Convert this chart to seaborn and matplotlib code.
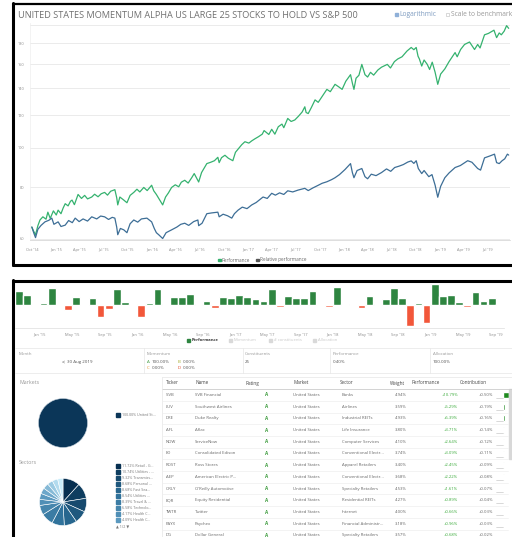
import numpy as np
import pandas as pd
import matplotlib.pyplot as plt
import matplotlib.dates as mdates
import seaborn as sns

sns.set_theme(style="white")
plt.rcParams['font.family'] = ['Open Sans', 'DejaVu Sans']

W, H = 512, 537

# ---- cumulative performance (log scale) ----
perf_pts = """2014-10-01 64.0;2014-10-08 62.5;2014-10-15 61.3;2014-10-24 64.5;2014-11-01 66.6;2014-11-12 67.8;2014-11-24 66.9;
2014-12-01 69.6;2014-12-10 67.2;2014-12-22 70.1;2015-01-02 68.5;2015-01-09 70.4;2015-01-20 69.0;2015-01-28 71.2;2015-02-05 73.0;
2015-02-16 72.1;2015-02-25 74.0;2015-03-03 74.5;2015-03-12 72.6;2015-03-26 76.9;2015-04-08 75.2;2015-04-20 76.5;2015-05-01 75.0;
2015-05-17 75.8;2015-05-28 77.0;2015-06-10 75.9;2015-06-22 77.2;2015-07-05 77.8;2015-07-16 76.6;2015-07-28 78.3;2015-08-13 79.0;
2015-08-20 75.5;2015-08-24 72.5;2015-09-01 75.8;2015-09-16 74.5;2015-09-28 73.4;2015-10-10 76.5;2015-10-24 77.8;2015-11-05 79.2;
2015-11-16 78.0;2015-12-01 80.0;2015-12-14 78.6;2015-12-31 81.0;2016-01-08 78.5;2016-01-18 76.9;2016-01-28 75.0;2016-02-11 72.5;
2016-02-22 75.8;2016-03-04 77.6;2016-03-16 80.0;2016-03-30 81.2;2016-04-12 80.3;2016-04-22 82.4;2016-05-05 83.3;2016-05-18 82.0;
2016-06-01 84.6;2016-06-10 86.5;2016-06-27 82.5;2016-07-08 87.0;2016-07-28 91.5;2016-08-12 92.2;2016-08-26 93.0;2016-09-08 94.8;
2016-09-13 92.0;2016-09-22 94.6;2016-10-05 95.9;2016-10-18 94.3;2016-11-04 93.0;2016-11-14 97.5;2016-11-24 99.3;2016-12-08 101.8;
2016-12-20 103.5;2017-01-04 102.7;2017-01-15 104.0;2017-01-27 105.2;2017-02-10 106.5;2017-02-24 108.0;2017-03-03 110.2;
2017-03-21 107.8;2017-04-01 111.0;2017-04-13 108.0;2017-04-26 112.6;2017-05-10 114.3;2017-05-17 112.0;2017-06-01 118.0;
2017-06-14 116.0;2017-06-28 117.0;2017-07-12 119.5;2017-07-26 122.4;2017-08-05 126.0;2017-08-10 122.0;2017-08-18 121.3;
2017-08-30 125.5;2017-09-13 131.0;2017-09-25 129.2;2017-10-10 133.5;2017-10-28 139.0;2017-11-10 137.2;2017-11-28 143.0;
2017-12-12 141.0;2017-12-25 139.0;2018-01-08 145.5;2018-01-26 151.0;2018-02-02 144.0;2018-02-08 139.0;2018-02-16 148.0;
2018-02-27 150.5;2018-03-10 160.0;2018-03-22 151.0;2018-04-01 149.0;2018-04-12 153.0;2018-04-24 150.6;2018-05-10 155.0;
2018-05-24 157.5;2018-06-15 160.0;2018-06-27 156.8;2018-07-12 162.5;2018-07-25 165.0;2018-08-10 167.0;2018-08-29 172.5;
2018-09-14 176.0;2018-09-24 173.8;2018-10-03 176.0;2018-10-10 167.5;2018-10-15 165.0;2018-10-24 158.5;2018-11-02 164.0;
2018-11-14 160.0;2018-11-23 155.5;2018-12-03 162.0;2018-12-14 153.0;2018-12-24 143.0;2019-01-04 151.5;2019-01-20 156.0;
2019-02-05 162.5;2019-02-28 171.0;2019-03-08 167.0;2019-03-21 174.0;2019-04-05 179.0;2019-04-24 181.5;2019-05-13 174.0;
2019-05-25 179.0;2019-06-03 175.5;2019-06-20 189.0;2019-07-05 190.5;2019-07-26 194.0;2019-08-05 186.0;2019-08-15 191.0;
2019-08-23 189.0;2019-09-03 193.0;2019-09-12 199.0;2019-09-20 196.0"""

rel_pts = """2014-10-01 64.0;2014-10-08 62.0;2014-10-15 60.3;2014-10-24 63.2;2014-11-05 64.6;2014-11-20 65.9;2014-12-05 66.5;
2014-12-16 67.3;2014-12-24 65.0;2015-01-09 65.9;2015-01-20 64.2;2015-02-05 64.7;2015-02-18 66.4;2015-03-04 65.6;2015-03-15 67.3;
2015-03-30 66.0;2015-04-14 67.0;2015-05-01 66.2;2015-05-17 67.8;2015-06-05 67.0;2015-06-20 68.1;2015-07-05 67.8;2015-07-20 66.8;
2015-08-03 67.6;2015-08-13 67.3;2015-08-20 64.0;2015-08-24 61.3;2015-09-03 63.5;2015-09-16 63.0;2015-09-28 62.0;2015-10-10 65.2;
2015-10-24 66.6;2015-11-08 65.8;2015-11-22 67.0;2015-12-13 67.3;2015-12-31 65.9;2016-01-10 63.5;2016-01-18 62.0;2016-01-28 61.2;
2016-02-11 60.0;2016-02-24 62.0;2016-03-16 63.0;2016-04-05 64.0;2016-04-20 65.0;2016-05-05 65.4;2016-05-20 64.6;2016-06-08 66.0;
2016-06-24 66.6;2016-06-27 64.5;2016-07-10 65.4;2016-07-28 69.0;2016-08-15 69.3;2016-09-08 69.6;2016-09-13 67.8;2016-09-28 68.8;
2016-10-15 68.2;2016-10-31 67.3;2016-11-10 69.0;2016-11-24 70.4;2016-12-10 71.6;2016-12-28 71.0;2017-01-15 72.5;2017-02-01 73.5;
2017-02-27 75.8;2017-03-15 75.2;2017-04-01 77.4;2017-04-15 76.6;2017-05-01 77.6;2017-05-17 76.9;2017-06-01 78.5;2017-06-20 78.0;
2017-07-10 78.8;2017-08-05 79.6;2017-08-18 78.6;2017-09-05 79.8;2017-09-22 80.8;2017-10-10 81.9;2017-10-28 82.6;2017-11-15 83.6;
2017-11-28 84.5;2017-12-15 86.0;2018-01-05 88.5;2018-01-26 91.5;2018-02-02 87.0;2018-02-08 84.5;2018-02-20 88.0;2018-03-10 89.0;
2018-03-22 85.0;2018-04-01 84.0;2018-04-15 86.2;2018-05-03 85.5;2018-05-24 87.0;2018-06-12 88.8;2018-06-28 87.6;2018-07-13 89.5;
2018-07-30 90.2;2018-08-15 91.0;2018-09-01 92.3;2018-09-14 92.9;2018-09-24 91.6;2018-10-03 93.0;2018-10-11 89.0;2018-10-24 86.5;
2018-11-02 88.0;2018-11-20 85.0;2018-12-02 86.0;2018-12-14 81.0;2018-12-24 75.7;2019-01-04 80.5;2019-01-20 84.5;2019-02-05 86.8;
2019-02-28 89.5;2019-03-20 90.5;2019-04-17 93.0;2019-05-03 92.2;2019-05-25 89.0;2019-06-05 88.2;2019-06-20 94.5;2019-07-10 95.5;
2019-07-28 96.5;2019-08-05 92.0;2019-08-15 91.5;2019-08-26 93.0;2019-09-05 94.0;2019-09-15 96.5;2019-09-20 96.0"""

def parse(s):
    d, v = [], []
    for item in s.replace("\n", "").split(";"):
        a, b = item.split()
        d.append(pd.Timestamp(a)); v.append(float(b))
    return d, v

perf_dates, perf_vals = parse(perf_pts)
rel_dates, rel_vals = parse(rel_pts)

# ---- monthly performance bars (Oct '14 .. Sep '19) ----
monthly_perf = [4.2, 3.0, 0.0, 0.6, 5.0, 0.0, -1.5, 2.3, 0.0, 2.0, -3.7, -1.3, 4.7, 1.0, 0.2,
                -3.7, 0.7, 4.7, 0.3, 2.5, 2.5, 3.3, 0.4, 1.2, -1.0, 2.5, 2.0, 3.0, 2.3, 1.8,
                1.2, 4.7, -0.5, 2.8, 2.2, 2.2, 4.2, 0.0, -0.5, 5.5, 0.3, 0.0, -1.0, 2.8, 0.3,
                1.7, 5.2, 2.0, -6.2, 0.7, -5.5, 6.3, 2.8, 3.0, 1.0, -0.7, 3.8, 1.3, 2.0, 0.2]
bar_months = pd.date_range('2014-10-01', periods=len(monthly_perf), freq='MS')

# ---- allocation ----
market_labels = ['United States']
market_weights = [100.0]
sector_weights = [11.72, 10.74, 9.32, 8.68, 8.68, 8.54, 8.39, 6.58, 4.17, 4.09, 4.00, 3.90, 3.80, 3.74, 3.65]
sector_names = ['Retail - G...', 'Utilities - ...', 'Transmiss...', 'Personal ...', 'Fast Sea...',
                'Utilities ...', 'Travel & ...', 'Technolo...', 'Health C...', 'Health C...']

# ---- holdings table ----
tickers = ['SIVB', 'LUV', 'DRE', 'AFL', 'NOW', 'ED', 'ROST', 'AEP', 'ORLY', 'EQR', 'TWTR', 'PAYX', 'DG']
names = ['SVB Financial', 'Southwest Airlines', 'Duke Realty', 'Aflac', 'ServiceNow', 'Consolidated Edison',
         'Ross Stores', 'American Electric P...', "O'Reilly Automotive", 'Equity Residential', 'Twitter',
         'Paychex', 'Dollar General']
sectors = ['Banks', 'Airlines', 'Industrial REITs', 'Life Insurance', 'Computer Services',
           'Conventional Electr...', 'Apparel Retailers', 'Conventional Electr...', 'Specialty Retailers',
           'Residential REITs', 'Internet', 'Financial Administr...', 'Specialty Retailers']
weights = ['4.94%', '3.59%', '4.93%', '3.80%', '4.10%', '3.74%', '3.40%', '3.68%', '4.53%', '4.27%',
           '4.00%', '3.18%', '3.57%']
perfs = ['+10.79%', '+5.29%', '+6.39%', '+3.71%', '+2.64%', '+3.09%', '+2.45%', '+2.22%', '+1.61%',
         '+0.89%', '+0.66%', '+0.96%', '+0.68%']
contribs = [0.50, 0.19, 0.16, 0.14, 0.12, 0.11, 0.09, 0.08, 0.07, 0.04, 0.03, 0.03, 0.02]

GREEN = '#35b26f'
BLUE = '#3d6e96'
BARG = '#2e8540'
BARR = '#f2573a'
GRID = '#e8e8e8'
TXT = '#8a8a8a'

fig = plt.figure(figsize=(W / 100, H / 100), dpi=100)
bg = fig.add_axes([0, 0, 1, 1])
bg.set_xlim(0, W)
bg.set_ylim(H, 0)
bg.axis('off')

def fr(x0, y0, x1, y1):
    return [x0 / W, 1 - y1 / H, (x1 - x0) / W, (y1 - y0) / H]

# frames
bg.plot([13, W], [3.5, 3.5], color='black', lw=1.6)
bg.plot([13, 13], [3, 265], color='black', lw=2.2)
bg.plot([13, W], [264.5, 264.5], color='black', lw=2.2)
bg.plot([13, W], [281, 281], color='black', lw=2.2)
bg.plot([13, 13], [280, H], color='black', lw=2.2)

# ---- line chart ----
ax = fig.add_axes(fr(30, 23, 510, 240))
sns.lineplot(x=perf_dates, y=perf_vals, ax=ax, color=GREEN, lw=0.9)
sns.lineplot(x=rel_dates, y=rel_vals, ax=ax, color=BLUE, lw=0.9)
ax.set_yscale('log')
ax.set_ylim(59.5, 202)
ax.set_xlim(pd.Timestamp('2014-09-24'), pd.Timestamp('2019-09-25'))
yt = [60, 80, 100, 120, 140, 160, 180, 200]
ax.set_yticks(yt)
ax.set_yticklabels([str(v) if v < 200 else '' for v in yt])
ax.yaxis.set_minor_locator(plt.NullLocator())
ax.grid(axis='y', color=GRID, lw=0.6)
qt = pd.date_range('2014-10-01', '2019-07-01', freq='QS-OCT')
ax.set_xticks(qt)
ax.set_xticklabels([d.strftime("%b '%y") for d in qt])
ax.tick_params(axis='both', labelsize=2.8, colors=TXT, length=0, pad=4)
ax.tick_params(axis='x', length=1.5, color='#cccccc', width=0.4)
for s in ['top', 'right']:
    ax.spines[s].set_visible(False)
ax.spines['left'].set_color('#eeeeee'); ax.spines['left'].set_linewidth(0.5)
ax.spines['bottom'].set_color('#d0d0d0'); ax.spines['bottom'].set_linewidth(0.5)
ax.set_xlabel(''); ax.set_ylabel('')

bg.text(18, 15, 'UNITED STATES MOMENTUM ALPHA US LARGE 25 STOCKS TO HOLD VS S&P 500',
        fontsize=6.6, color='#707070', va='center', ha='left')
bg.add_patch(plt.Rectangle((395, 12.5), 3.2, 3.2, color='#8fb0d8'))
bg.text(399, 14.5, 'Logarithmic', fontsize=4.8, color='#7f9cc0', va='center')
bg.add_patch(plt.Rectangle((446, 12.5), 3.2, 3.2, fc='white', ec='#bbbbbb', lw=0.4))
bg.text(451, 14.5, 'Scale to benchmark', fontsize=4.8, color='#999999', va='center')
bg.add_patch(plt.Rectangle((218, 258.5), 2.8, 2.8, color=GREEN))
bg.text(222, 260, 'Performance', fontsize=3.3, color='#666666', va='center')
bg.add_patch(plt.Rectangle((256, 258.5), 2.8, 2.8, color='#555555'))
bg.text(260, 260, 'Relative performance', fontsize=3.3, color='#666666', va='center')

# ---- monthly bars ----
ax2 = fig.add_axes(fr(15, 283, 504, 328))
sign = ['pos' if v >= 0 else 'neg' for v in monthly_perf]
sns.barplot(x=list(range(len(monthly_perf))), y=monthly_perf, hue=sign, palette={'pos': BARG, 'neg': BARR},
            dodge=False, width=0.95, legend=False, ax=ax2, saturation=1)
ax2.set_xlim(-0.5, len(monthly_perf) - 0.5)
ax2.set_ylim(-6.9, 6.6)
ticks_i = [i for i, d in enumerate(bar_months) if d.month in (1, 5, 9) and i > 0]
ax2.set_xticks([i - 0.5 for i in ticks_i])
ax2.set_xticklabels([bar_months[i].strftime("%b '%y") for i in ticks_i])
ax2.set_yticks([])
ax2.tick_params(axis='x', labelsize=2.9, colors=TXT, length=1.5, width=0.4, pad=2)
ax2.tick_params(axis='x', color='#cccccc')
for s in ['top', 'right', 'left']:
    ax2.spines[s].set_visible(False)
ax2.spines['bottom'].set_color('#dddddd'); ax2.spines['bottom'].set_linewidth(0.5)
ax2.set_facecolor('none')

leg = [('Performance', BARG, '#333333', 'bold', 187), ('Momentum', '#d9d9d9', '#c8c8c8', 'normal', 229),
       ('# constituents', '#d9d9d9', '#c8c8c8', 'normal', 269), ('Allocation', '#d9d9d9', '#c8c8c8', 'normal', 313)]
for lab, c, tc, fw, x in leg:
    bg.add_patch(plt.Rectangle((x, 338.5), 3, 3, color=c))
    bg.text(x + 4.5, 340.2, lab, fontsize=3.0, color=tc, va='center', fontweight=fw)

# ---- info boxes ----
bg.plot([15, W], [348, 348], color='#e6e6e6', lw=0.5)
bg.plot([15, W], [373, 373], color='#e6e6e6', lw=0.5)
for x in [144, 243, 330, 430]:
    bg.plot([x, x], [348, 373], color='#e6e6e6', lw=0.5)
lab_kw = dict(fontsize=3.2, color='#999999', va='center')
val_kw = dict(fontsize=3.2, color='#555555', va='center')
bg.text(19, 354, 'Month', **lab_kw)
bg.text(62, 362, '<', fontsize=4, color='#444444', va='center')
bg.text(67, 362, '30 Aug 2019', **val_kw)
bg.text(147, 354, 'Momentum', **lab_kw)
for lt, pct, col, x, y in [('A', '100.00%', '#3a9a3a', 147, 362), ('B', '0.00%', '#a0a820', 178, 362),
                           ('C', '0.00%', '#e08a1e', 147, 368), ('D', '0.00%', '#e0401e', 178, 368)]:
    bg.text(x, y, lt, fontsize=3.2, color=col, va='center')
    bg.text(x + 4.5, y, pct, fontsize=3.2, color='#555555', va='center', ha='left')
bg.text(245, 354, 'Constituents', **lab_kw)
bg.text(245, 362, '25', **val_kw)
bg.text(333, 354, 'Performance', **lab_kw)
bg.text(333, 362, '0.40%', **val_kw)
bg.text(433, 354, 'Allocation', **lab_kw)
bg.text(433, 362, '100.00%', **val_kw)

# ---- pies ----
bg.text(19, 383, 'Markets', fontsize=3.8, color='#999999', va='center')
axm = fig.add_axes(fr(38, 398, 88, 448))
axm.pie(market_weights, colors=['#0b3658'], startangle=90, counterclock=False,
        wedgeprops=dict(edgecolor='#c8d4de', linewidth=0.4))
axm.set_xlim(-1.02, 1.02); axm.set_ylim(-1.02, 1.02)
axm.set_aspect('equal')
bg.add_patch(plt.Rectangle((116, 413), 4, 3.5, color='#0b3658'))
bg.text(122, 415, '100.00% United St...', fontsize=2.6, color='#777777', va='center')

bg.text(19, 463, 'Sectors', fontsize=3.8, color='#999999', va='center')
sec_cols = sns.blend_palette(['#062f50', '#2d6f98', '#5e9cc2', '#c8ecfa'], len(sector_weights))
axs = fig.add_axes(fr(39, 478, 87, 526))
axs.pie(sector_weights, colors=sec_cols, startangle=90, counterclock=False,
        wedgeprops=dict(edgecolor='white', linewidth=0.4))
axs.set_xlim(-1.02, 1.02); axs.set_ylim(-1.02, 1.02)
axs.set_aspect('equal')
for i, (w, nm) in enumerate(zip(sector_weights[:10], sector_names)):
    y = 466 + i * 6.0
    bg.add_patch(plt.Rectangle((116, y - 1.8), 4, 3.5, color=sec_cols[i]))
    bg.text(122, y, f'{w:.2f}% {nm}', fontsize=2.6, color='#777777', va='center')
bg.text(116, 527, '\u25b2 1/2 \u25bc', fontsize=2.6, color='#777777', va='center')

# ---- table ----
cols_x = [166, 195, 245, 293, 340, 390, 412, 460]
heads = ['Ticker', 'Name', 'Rating', 'Market', 'Sector', 'Weight', 'Performance', 'Contribution']
for x, h in zip(cols_x, heads):
    bg.text(x, 383, h, fontsize=3.3, color='#444444', va='center')
bg.plot([162, W], [377, 377], color='#e6e6e6', lw=0.5)
bg.plot([162, W], [389, 389], color='#cccccc', lw=0.6)
bg.plot([162, 162], [377, H], color='#e6e6e6', lw=0.5)
row_y = [395 + i * 11.7 for i in range(len(tickers))]
bg.barh(row_y, [max(c * 13, 0.7) for c in contribs], left=502.5, height=6, color='#1e8a1e')
for i, y in enumerate(row_y):
    bg.plot([162, 508], [y + 5.8, y + 5.8], color='#eeeeee', lw=0.5)
    bg.plot([496, 502.5], [y + 3, y + 3], color='#bbbbbb', lw=0.4)
    kw = dict(fontsize=3.1, color='#666666', va='center')
    bg.text(166, y, tickers[i], **kw)
    bg.text(195, y, names[i], **kw)
    bg.text(267, y, 'A', fontsize=3.3, color='#3a9a3a', va='center', ha='center', fontweight='bold')
    bg.text(293, y, 'United States', **kw)
    bg.text(342, y, sectors[i], **kw)
    bg.text(407, y, weights[i], fontsize=3.1, color='#666666', va='center', ha='right')
    bg.text(458, y, perfs[i], fontsize=3.1, color='#3aaa3a', va='center', ha='right')
    bg.text(493, y, f'+{contribs[i]:.2f}%', fontsize=3.1, color='#666666', va='center', ha='right')
bg.add_patch(plt.Rectangle((509, 389), 3, 70, color='#d8d8d8'))

fig.savefig('out.png', dpi=100)
